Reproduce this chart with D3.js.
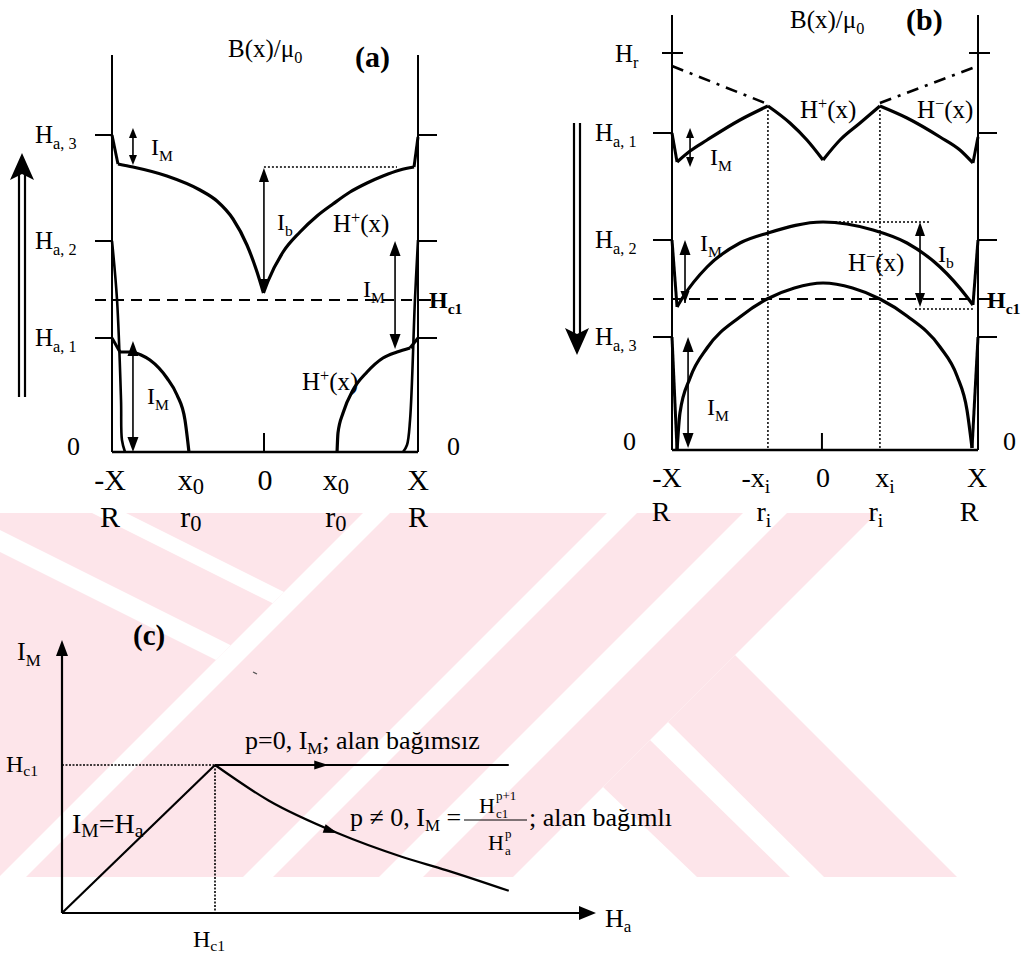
<!DOCTYPE html>
<html><head><meta charset="utf-8">
<script src="https://cdn.jsdelivr.net/npm/d3@7"></script>
<style>
body{margin:0;background:#fff}
svg{display:block}
text{font-family:"Liberation Serif","Times New Roman","DejaVu Serif",serif;fill:#000}
</style>
</head><body>
<svg id="fig" width="1030" height="959"></svg>
<script>
// ---------- Panel (a): increasing applied field, profiles B(x)/mu0 across the slab ----------
// x in units of the half-width X, field in arbitrary units
const levelsA = [317, 211, 114];            // H_a,3  H_a,2  H_a,1
const levelNamesA = ["a, 3", "a, 2", "a, 1"];
const hc1A = 152;
const a3EdgeL = [[-1, 317], [-0.961, 288]];
const a3Left = [[-0.961, 288], [-0.863, 285], [-0.641, 276], [-0.425, 262], [-0.314, 251], [-0.209, 233], [-0.118, 207], [-0.052, 180], [-0.01, 159]];
const a3Right = [[-0.01, 159], [0.02, 171], [0.118, 200], [0.229, 220], [0.34, 236], [0.444, 248], [0.556, 260], [0.667, 269], [0.771, 276], [0.882, 282], [0.974, 285]];
const a3EdgeR = [[0.974, 285], [1, 315]];
const a2Left = [[-1, 211], [-0.967, 152], [-0.941, 52], [-0.935, 12], [-0.915, 0]];
const a2Right = [[1, 212], [0.98, 152], [0.948, 32], [0.928, 7], [0.902, 0]];
const a1EdgeL = [[-1, 114], [-0.948, 100]];
const a1Left = [[-0.948, 100], [-0.869, 100], [-0.81, 97], [-0.752, 92], [-0.641, 74], [-0.575, 57], [-0.523, 32], [-0.497, 0]];
const a1EdgeR = [[1, 114], [0.948, 104]];
const a1Right = [[0.471, 0], [0.477, 19], [0.51, 39], [0.575, 62], [0.667, 80], [0.771, 94], [0.863, 100], [0.948, 104]];
const xTicksA = [-1, -0.484, 0, 0.464, 1];
const xNamesA = [["-X"], ["x", "0"], ["0"], ["x", "0"], ["X"]];
const rNamesA = [["R"], ["r", "0"], null, ["r", "0"], ["R"]];

// ---------- Panel (b): decreasing applied field ----------
const levelsB = [317, 210, 113];            // H_a,1  H_a,2  H_a,3
const levelNamesB = ["a, 1", "a, 2", "a, 3"];
const hrB = 397, hc1B = 151;
const b1EdgeL = [[-1, 317], [-0.967, 288]];
const b1Left = [[-0.967, 288], [-0.882, 299], [-0.771, 310], [-0.556, 330], [-0.373, 344]];
const b1MidL = [[-0.373, 344], [-0.229, 327], [-0.118, 310], [-0.013, 290]];
const b1MidR = [[-0.013, 290], [0.098, 310], [0.229, 327], [0.359, 344]];
const b1Right = [[0.359, 344], [0.536, 332], [0.752, 313], [0.882, 300], [0.967, 287]];
const b1EdgeR = [[0.967, 287], [1, 313]];
const hrLeft = [[-1, 384], [-0.392, 347]];
const hrRight = [[0.359, 347], [1, 384]];
const b2EdgeL = [[-1, 210], [-0.967, 143]];
const b2Curve = [[-0.967, 143], [-0.928, 153], [-0.771, 183], [-0.556, 207], [-0.373, 217], [-0.013, 228], [0.314, 220], [0.536, 207], [0.752, 183], [0.928, 153], [0.967, 145]];
const b2EdgeR = [[0.967, 145], [1, 210]];
const b3EdgeL = [[-1, 113], [-0.967, 0]];
const b3Curve = [[-0.967, 0], [-0.948, 37], [-0.882, 72], [-0.771, 102], [-0.556, 133], [-0.379, 151], [-0.2, 162], [-0.013, 167], [0.18, 162], [0.359, 151], [0.536, 134], [0.752, 103], [0.863, 74], [0.928, 40], [0.961, 2]];
const b3EdgeR = [[0.961, 2], [1, 113]];
const innerB = [-0.373, 0.359];            // -x_i, x_i
const xTicksB = [-1, -0.373, 0, 0.359, 1];
const xNamesB = [["-X"], ["-x", "i"], ["0"], ["x", "i"], ["X"]];
const rNamesB = [["R"], ["r", "i"], null, ["r", "i"], ["R"]];

// ---------- Panel (c): I_M versus H_a, in units of H_c1 ----------
const rise = [[0, 0], [1, 1]];
const flatP0 = [[1, 1], [2.92, 1]];
const decayP = [[1, 1], [1.35, 0.76], [1.8, 0.54], [2.22, 0.38], [2.51, 0.29], [2.92, 0.15]];

const FONT = '"Liberation Serif","Times New Roman","DejaVu Serif",serif';
const svg = d3.select("#fig").attr("font-family", FONT);

// ---------- background stamp (pale diagonal bands) ----------
const PINK = "#fde5ea";
const stamp = svg.append("g");
stamp.append("clipPath").attr("id", "stampClip").append("rect")
  .attr("x", 0).attr("y", 513).attr("width", 1030).attr("height", 364);
const sg = stamp.append("g").attr("clip-path", "url(#stampClip)");
const poly = (pts, fill) => sg.append("polygon").attr("points", pts.map(p => p.join(",")).join(" ")).attr("fill", fill);
// left chevron block, bounded by the line x+y = 876
poly([[0, 513], [363, 513], [0, 876]], PINK);
poly([[92, 513], [126, 513], [284, 592], [272.7, 603.3]], "#fff");
poly([[0, 530], [230.7, 645.3], [216, 660], [0, 552]], "#fff");
// slanted bands
const band = (a, b) => poly([[a - 513, 513], [b - 513, 513], [b - 877, 877], [a - 877, 877]], PINK);
band(903, 1120);
band(1150, 1256);
band(1300, 1390);
// lower arms running down to the right
poly([[735, 655], [668, 722], [824, 877], [957, 877]], PINK);
poly([[650, 740], [603, 787], [697, 877], [790, 877]], PINK);

// ---------- helpers ----------
function rich(g, x, y, parts, size, opt = {}) {
  const t = g.append("text").attr("x", x).attr("y", y).attr("font-size", size).attr("font-family", FONT)
    .attr("text-anchor", opt.anchor || "start").attr("font-weight", opt.bold ? "bold" : "normal");
  let cur = 0;
  parts.forEach(p => {
    const s = typeof p === "string" ? p : p[0];
    const kind = typeof p === "string" ? null : p[1];
    const k = (typeof p !== "string" && p[2]) || 0.65;
    let target = 0;
    if (kind === "sub") target = size * (opt.subShift || 0.24);
    if (kind === "sup") target = -size * 0.38;
    const ts = t.append("tspan").text(s);
    if (target - cur !== 0) ts.attr("dy", target - cur);
    if (kind) ts.attr("font-size", size * k);
    cur = target;
  });
  return t;
}
function head(g, x, y, ang, len, wid) {
  const bx = x - len * Math.cos(ang), by = y - len * Math.sin(ang);
  const nx = -Math.sin(ang) * wid / 2, ny = Math.cos(ang) * wid / 2;
  g.append("path").attr("d", `M${x},${y}L${bx + nx},${by + ny}L${bx - nx},${by - ny}Z`).attr("fill", "#000");
}
function vArrow(g, x, yTop, yBot, up, down, len, wid) {
  g.append("line").attr("x1", x).attr("x2", x).attr("y1", yTop + (up ? len * 0.6 : 0)).attr("y2", yBot - (down ? len * 0.6 : 0))
    .attr("stroke", "#000").attr("stroke-width", 1.6);
  if (up) head(g, x, yTop, -Math.PI / 2, len, wid);
  if (down) head(g, x, yBot, Math.PI / 2, len, wid);
}
function hline(g, x1, x2, y, w, dash) {
  const l = g.append("line").attr("x1", x1).attr("x2", x2).attr("y1", y).attr("y2", y)
    .attr("stroke", "#000").attr("stroke-width", w);
  if (dash) l.attr("stroke-dasharray", dash);
  return l;
}
function vline(g, x, y1, y2, w, dash) {
  const l = g.append("line").attr("x1", x).attr("x2", x).attr("y1", y1).attr("y2", y2)
    .attr("stroke", "#000").attr("stroke-width", w);
  if (dash) l.attr("stroke-dasharray", dash);
  return l;
}
function bigArrow(g, x, yFrom, yTip, dir) {
  // double-shafted arrow showing the sweep direction of the applied field
  vline(g, x - 3, yFrom, yTip - dir * 22, 2.2);
  vline(g, x + 3, yFrom, yTip - dir * 22, 2.2);
  g.append("path")
    .attr("d", `M${x},${yTip}L${x - 12},${yTip - dir * 27}L${x},${yTip - dir * 21}L${x + 12},${yTip - dir * 27}Z`)
    .attr("fill", "#000");
}

// ================= Panel (a) =================
const gA = svg.append("g");
const xA = d3.scaleLinear().domain([-1, 1]).range([112, 418]);
const yA = d3.scaleLinear().domain([0, 400]).range([452, 52]);
const curveA = d3.line().x(d => xA(d[0])).y(d => yA(d[1])).curve(d3.curveMonotoneX);
const edgeCurveA = d3.line().x(d => xA(d[0])).y(d => yA(d[1])).curve(d3.curveCatmullRom.alpha(0.5));
const segA = d3.line().x(d => xA(d[0])).y(d => yA(d[1]));

vline(gA, xA(-1), yA(397), yA(0), 2);
vline(gA, xA(1), yA(397), yA(0), 2);
hline(gA, xA(-1), xA(1), yA(0), 2.5);
vline(gA, xA(0) - 1, yA(0), yA(19), 2);
levelsA.forEach(v => {
  hline(gA, 95, xA(-1), yA(v), 2);
  hline(gA, xA(1), 437, yA(v), 2);
});
hline(gA, 95, xA(1), yA(hc1A), 2, "11,7");
hline(gA, xA(1), 431, yA(hc1A), 2);

[a3Left, a3Right, a1Left, a1Right].forEach(d =>
  gA.append("path").attr("d", curveA(d)).attr("fill", "none").attr("stroke", "#000").attr("stroke-width", 3.2));
[a3EdgeL, a3EdgeR, a1EdgeL, a1EdgeR].forEach(d =>
  gA.append("path").attr("d", segA(d)).attr("fill", "none").attr("stroke", "#000").attr("stroke-width", 3));
[a2Left, a2Right].forEach(d =>
  gA.append("path").attr("d", edgeCurveA(d)).attr("fill", "none").attr("stroke", "#000").attr("stroke-width", 2.6));

// I_M / I_b arrows
vArrow(gA, xA(-0.863), yA(324), yA(287), true, true, 10, 8);
vArrow(gA, xA(-0.007), yA(284), yA(159), true, true, 14, 10);
hline(gA, xA(-0.007), xA(0.863), yA(285), 1.6, "2,2");
vArrow(gA, xA(0.85), yA(211), yA(103), true, true, 15, 11);
vArrow(gA, xA(-0.863), yA(111), yA(0), true, true, 15, 11);

bigArrow(gA, 22, 397, 153, -1);

rich(gA, 228, 57, ["B(x)/\u03bc", ["0", "sub"]], 25);
rich(gA, 355, 67, ["(a)"], 30, { bold: true });
levelsA.forEach((v, i) => rich(gA, 35, yA(v) + 8, ["H", [levelNamesA[i], "sub"]], 25));
rich(gA, 67, 455, ["0"], 26);
rich(gA, 447, 455, ["0"], 26);
rich(gA, 429, yA(hc1A) + 8, ["H", ["c1", "sub"]], 24, { bold: true });
rich(gA, 151, 155, ["I", ["M", "sub"]], 24);
rich(gA, 277, 230, ["I", ["b", "sub"]], 24);
rich(gA, 333, 232, ["H", ["+", "sup"], "(x)"], 25);
rich(gA, 363, 297, ["I", ["M", "sub"]], 24);
rich(gA, 147, 404, ["I", ["M", "sub"]], 24);
rich(gA, 302, 390, ["H", ["+", "sup"], "(x)"], 25);
xTicksA.forEach((v, i) => {
  const xp = xA(v) + (i === 0 ? -2 : 0);
  rich(gA, xp, 490, xNamesA[i].length > 1 ? [xNamesA[i][0], [xNamesA[i][1], "sub", 0.75]] : xNamesA[i], 30, { anchor: "middle", subShift: 0.12 });
  if (rNamesA[i]) rich(gA, xp, 527, rNamesA[i].length > 1 ? [rNamesA[i][0], [rNamesA[i][1], "sub", 0.75]] : rNamesA[i], 30, { anchor: "middle", subShift: 0.12 });
});

// ================= Panel (b) =================
const gB = svg.append("g");
const xB = d3.scaleLinear().domain([-1, 1]).range([672, 978]);
const yB = d3.scaleLinear().domain([0, 440]).range([450, 10]);
const curveB = d3.line().x(d => xB(d[0])).y(d => yB(d[1])).curve(d3.curveMonotoneX);
const segB = d3.line().x(d => xB(d[0])).y(d => yB(d[1]));

vline(gB, xB(-1), yB(435), yB(0), 2);
vline(gB, xB(1), yB(435), yB(0), 2);
hline(gB, xB(-1), xB(1), yB(0), 2.5);
vline(gB, xB(-0.02), yB(0), yB(17), 2);
levelsB.forEach(v => {
  hline(gB, 653, xB(-1), yB(v), 2);
  hline(gB, xB(1), 997, yB(v), 2);
});
hline(gB, 662, 683, yB(hrB), 2);
hline(gB, 969, 990, yB(hrB), 2);
hline(gB, 653, xB(1), yB(hc1B), 2, "11,7");
hline(gB, xB(1), 990, yB(hc1B), 2);
innerB.forEach(v => vline(gB, xB(v), yB(344), yB(0), 1.5, "2,2"));

[hrLeft, hrRight].forEach(d =>
  gB.append("path").attr("d", segB(d)).attr("fill", "none").attr("stroke", "#000").attr("stroke-width", 2.6).attr("stroke-dasharray", "12,7,3,7"));
[b1Left, b1MidL, b1MidR, b1Right, b2Curve, b3Curve].forEach(d =>
  gB.append("path").attr("d", curveB(d)).attr("fill", "none").attr("stroke", "#000").attr("stroke-width", 3.2));
[b1EdgeL, b1EdgeR, b2EdgeL, b2EdgeR, b3EdgeL, b3EdgeR].forEach(d =>
  gB.append("path").attr("d", segB(d)).attr("fill", "none").attr("stroke", "#000").attr("stroke-width", 3));

vArrow(gB, xB(-0.882), yB(322), yB(283), true, true, 10, 8);
vArrow(gB, xB(-0.915), yB(210), yB(147), true, false, 15, 11);
head(gB, xB(-0.915), yB(147), Math.PI / 2, 12, 9);
vArrow(gB, xB(0.621), yB(228), yB(143), true, true, 14, 10);
hline(gB, xB(-0.013), xB(0.686), yB(228), 1.6, "2,2");
hline(gB, xB(0.588), xB(0.967), yB(141), 1.6, "2,2");
vArrow(gB, xB(-0.895), yB(113), yB(2), true, true, 15, 11);

bigArrow(gB, 577, 123, 355, 1);

rich(gB, 790, 28, ["B(x)/\u03bc", ["0", "sub"]], 25);
rich(gB, 906, 30, ["(b)"], 30, { bold: true });
rich(gB, 615, yB(hrB) + 9, ["H", ["r", "sub"]], 25);
levelsB.forEach((v, i) => rich(gB, 595, yB(v) + 8, ["H", [levelNamesB[i], "sub"]], 25));
rich(gB, 987, yB(hc1B) + 9, ["H", ["c1", "sub"]], 24, { bold: true });
rich(gB, 623, 450, ["0"], 26);
rich(gB, 1003, 450, ["0"], 26);
rich(gB, 710, 165, ["I", ["M", "sub"]], 24);
rich(gB, 800, 118, ["H", ["+", "sup"], "(x)"], 25);
rich(gB, 917, 118, ["H", ["\u2212", "sup"], "(x)"], 25);
rich(gB, 700, 251, ["I", ["M", "sub"]], 24);
rich(gB, 938, 262, ["I", ["b", "sub"]], 24);
rich(gB, 848, 271, ["H", ["\u2212", "sup"], "(x)"], 25);
rich(gB, 707, 415, ["I", ["M", "sub"]], 24);
xTicksB.forEach((v, i) => {
  const nudge = [-5, -12, -2, 5, -1][i];
  rich(gB, xB(v) + nudge, 487, xNamesB[i].length > 1 ? [xNamesB[i][0], [xNamesB[i][1], "sub", 0.7]] : xNamesB[i], 28, { anchor: "middle", subShift: 0.2 });
  const rn = [-11, -4, 0, -4, -9][i];
  if (rNamesB[i]) rich(gB, xB(v) + rn, 521, rNamesB[i].length > 1 ? [rNamesB[i][0], [rNamesB[i][1], "sub", 0.7]] : rNamesB[i], 28, { anchor: "middle", subShift: 0.2 });
});

// ================= Panel (c) =================
const gC = svg.append("g");
const xC = d3.scaleLinear().domain([0, 1]).range([62, 215]);
const yC = d3.scaleLinear().domain([0, 1]).range([913, 765]);
const lineC = d3.line().x(d => xC(d[0])).y(d => yC(d[1]));
const curveC = d3.line().x(d => xC(d[0])).y(d => yC(d[1])).curve(d3.curveMonotoneX);

hline(gC, xC(0), xC(3.38), yC(0), 2.2);
head(gC, xC(3.49), yC(0), 0, 17, 14);
vline(gC, xC(0), yC(0), yC(1.76), 2.2);
head(gC, xC(0), yC(1.845), -Math.PI / 2, 16, 12);
hline(gC, xC(0), xC(1), yC(1), 1.6, "2,1.5");
vline(gC, xC(1), yC(1), yC(0), 1.6, "2,1.5");

gC.append("path").attr("d", lineC(rise)).attr("fill", "none").attr("stroke", "#000").attr("stroke-width", 2.2);
gC.append("path").attr("d", lineC(flatP0)).attr("fill", "none").attr("stroke", "#000").attr("stroke-width", 2.2);
gC.append("path").attr("d", curveC(decayP)).attr("fill", "none").attr("stroke", "#000").attr("stroke-width", 2.2);
head(gC, xC(1.74), yC(1), 0, 14, 9);
{
  const a = [xC(1.66), yC(0.59)], b = [xC(1.8), yC(0.54)];
  head(gC, b[0], b[1], Math.atan2(b[1] - a[1], b[0] - a[0]), 14, 9);
}
gC.append("line").attr("x1", 253).attr("x2", 257).attr("y1", 672).attr("y2", 674).attr("stroke", "#555").attr("stroke-width", 1.2);

rich(gC, 133, 645, ["(c)"], 29, { bold: true });
rich(gC, 17, 660, ["I", ["M", "sub"]], 26);
rich(gC, 6, 772, ["H", ["c1", "sub"]], 24, { subShift: 0.18 });
rich(gC, 605, 927, ["H", ["a", "sub"]], 26, { subShift: 0.18 });
rich(gC, 193, 947, ["H", ["c1", "sub"]], 24, { subShift: 0.18 });
rich(gC, 72, 833, ["I", ["M", "sub", 0.7], "=H", ["a", "sub", 0.7]], 28, { subShift: 0.16 });
rich(gC, 245, 749, ["p=0, I", ["M", "sub"], "; alan ba\u011f\u0131ms\u0131z"], 26, { subShift: 0.18 });
rich(gC, 350, 826, ["p \u2260 0,  I", ["M", "sub"], " ="], 26, { subShift: 0.18 });
// stacked fraction H_c1^(p+1) / H_a^p
rich(gC, 479, 813, ["H"], 22);
rich(gC, 496, 818, ["c1"], 13);
rich(gC, 496, 800, ["p+1"], 13);
hline(gC, 464, 527, 820, 1.2);
rich(gC, 488, 850, ["H"], 22);
rich(gC, 505, 855, ["a"], 13);
rich(gC, 505, 838, ["p"], 13);
rich(gC, 529, 826, ["; alan ba\u011f\u0131ml\u0131"], 26);
</script>
</body></html>
